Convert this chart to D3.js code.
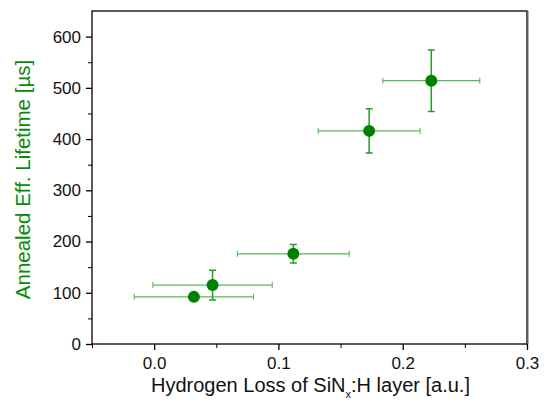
<!DOCTYPE html>
<html>
<head>
<meta charset="utf-8">
<script src="https://cdn.jsdelivr.net/npm/d3@7"></script>
<style>
  body { margin: 0; background: #fff; }
  text { font-family: "Liberation Sans", Arial, sans-serif; }
</style>
</head>
<body>
<div id="app"></div>
<script>
const width = 545,
    height = 403;
const margin = {top: 11, right: 18, bottom: 59, left: 92};

// hydrogen loss (a.u.) and annealed lifetime (µs), with errors
const hLoss = [0.032, 0.047, 0.112, 0.173, 0.223];
const hLossErr = [0.048, 0.048, 0.045, 0.041, 0.039];
const lifetime = [92, 115, 176, 416, 514];
const lifetimeErr = [7, 29, 18, 43, 60];

const xTicks = [0.0, 0.1, 0.2, 0.3];
const yTicks = [0, 100, 200, 300, 400, 500, 600];

const data = hLoss.map((x, i) => ({x, xe: hLossErr[i], y: lifetime[i], ye: lifetimeErr[i]}));

const x = d3.scaleLinear().domain([-0.05, 0.3]).range([margin.left, width - margin.right]);
const y = d3.scaleLinear().domain([0, 650]).range([height - margin.bottom, margin.top]);

const svg = d3.select("#app")
    .append("svg")
    .attr("width", width)
    .attr("height", height);

// frame
svg.append("rect")
    .attr("x", x.range()[0])
    .attr("y", y.range()[1])
    .attr("width", x.range()[1] - x.range()[0])
    .attr("height", y.range()[0] - y.range()[1])
    .attr("fill", "none")
    .attr("stroke", "#000")
    .attr("stroke-width", 1.3);
svg.append("line")
    .attr("x1", x.range()[1] + 1).attr("x2", x.range()[1] + 1)
    .attr("y1", y.range()[1]).attr("y2", y.range()[0])
    .attr("stroke", "#666")
    .attr("stroke-width", 1);

// minor ticks
svg.append("g")
    .attr("transform", `translate(0, ${y.range()[0]})`)
    .call(d3.axisBottom(x).tickValues([-0.05, 0.05, 0.15, 0.25]).tickSize(4).tickFormat(""))
    .call(g => g.select(".domain").remove());
svg.append("g")
    .attr("transform", `translate(${x.range()[0]}, 0)`)
    .call(d3.axisLeft(y).tickValues([50, 150, 250, 350, 450, 550]).tickSize(4).tickFormat(""))
    .call(g => g.select(".domain").remove());

// X axis
const xAxis = svg.append("g")
    .attr("transform", `translate(0, ${y.range()[0]})`)
    .call(d3.axisBottom(x).tickValues(xTicks).tickSize(6).tickPadding(7).tickFormat(d3.format(".1f")));
xAxis.select(".domain").remove();
xAxis.selectAll("text").attr("font-size", 17).attr("fill", "#111");
xAxis.selectAll("line").attr("stroke-width", 1.3);

// Y axis
const yAxis = svg.append("g")
    .attr("transform", `translate(${x.range()[0]}, 0)`)
    .call(d3.axisLeft(y).tickValues(yTicks).tickSize(6).tickPadding(5));
yAxis.select(".domain").remove();
yAxis.selectAll("text").attr("font-size", 17).attr("fill", "#111");
yAxis.selectAll("line").attr("stroke-width", 1.3);

// axis labels
const xl = svg.append("text")
    .attr("x", (x.range()[0] + x.range()[1]) / 2 + 1)
    .attr("y", 392)
    .attr("text-anchor", "middle")
    .attr("font-size", 20)
    .attr("fill", "#111");
xl.append("tspan").text("Hydrogen Loss of SiN");
xl.append("tspan").attr("font-size", 11).attr("dy", 6).text("x");
xl.append("tspan").attr("dy", -6).text(":H layer [a.u.]");

svg.append("text")
    .attr("transform", `translate(30, ${(y.range()[0] + y.range()[1]) / 2 + 2}) rotate(-90)`)
    .attr("text-anchor", "middle")
    .attr("font-size", 20.5)
    .attr("fill", "#0a8a0a")
    .text("Annealed Eff. Lifetime [µs]");

const pts = svg.append("g");

// x error bars
pts.selectAll("g.xerr")
    .data(data).enter()
    .append("path")
    .attr("d", d => {
        const x0 = x(d.x - d.xe), x1 = x(d.x + d.xe), yy = y(d.y);
        return `M${x0},${yy}H${x1}M${x0},${yy - 3}V${yy + 3}M${x1},${yy - 3}V${yy + 3}`;
    })
    .attr("fill", "none")
    .attr("stroke", "#5cb85c")
    .attr("stroke-width", 1.1);

// y error bars
pts.selectAll("g.yerr")
    .data(data).enter()
    .append("path")
    .attr("d", d => {
        const y0 = y(d.y - d.ye), y1 = y(d.y + d.ye), xx = x(d.x);
        return `M${xx},${y0}V${y1}M${xx - 3.5},${y0}H${xx + 3.5}M${xx - 3.5},${y1}H${xx + 3.5}`;
    })
    .attr("fill", "none")
    .attr("stroke", "#2a9a2a")
    .attr("stroke-width", 1.5);

pts.selectAll("circle")
    .data(data).enter()
    .append("circle")
    .attr("r", 6)
    .attr("cx", d => x(d.x))
    .attr("cy", d => y(d.y))
    .attr("fill", "#008000");
</script>
</body>
</html>
